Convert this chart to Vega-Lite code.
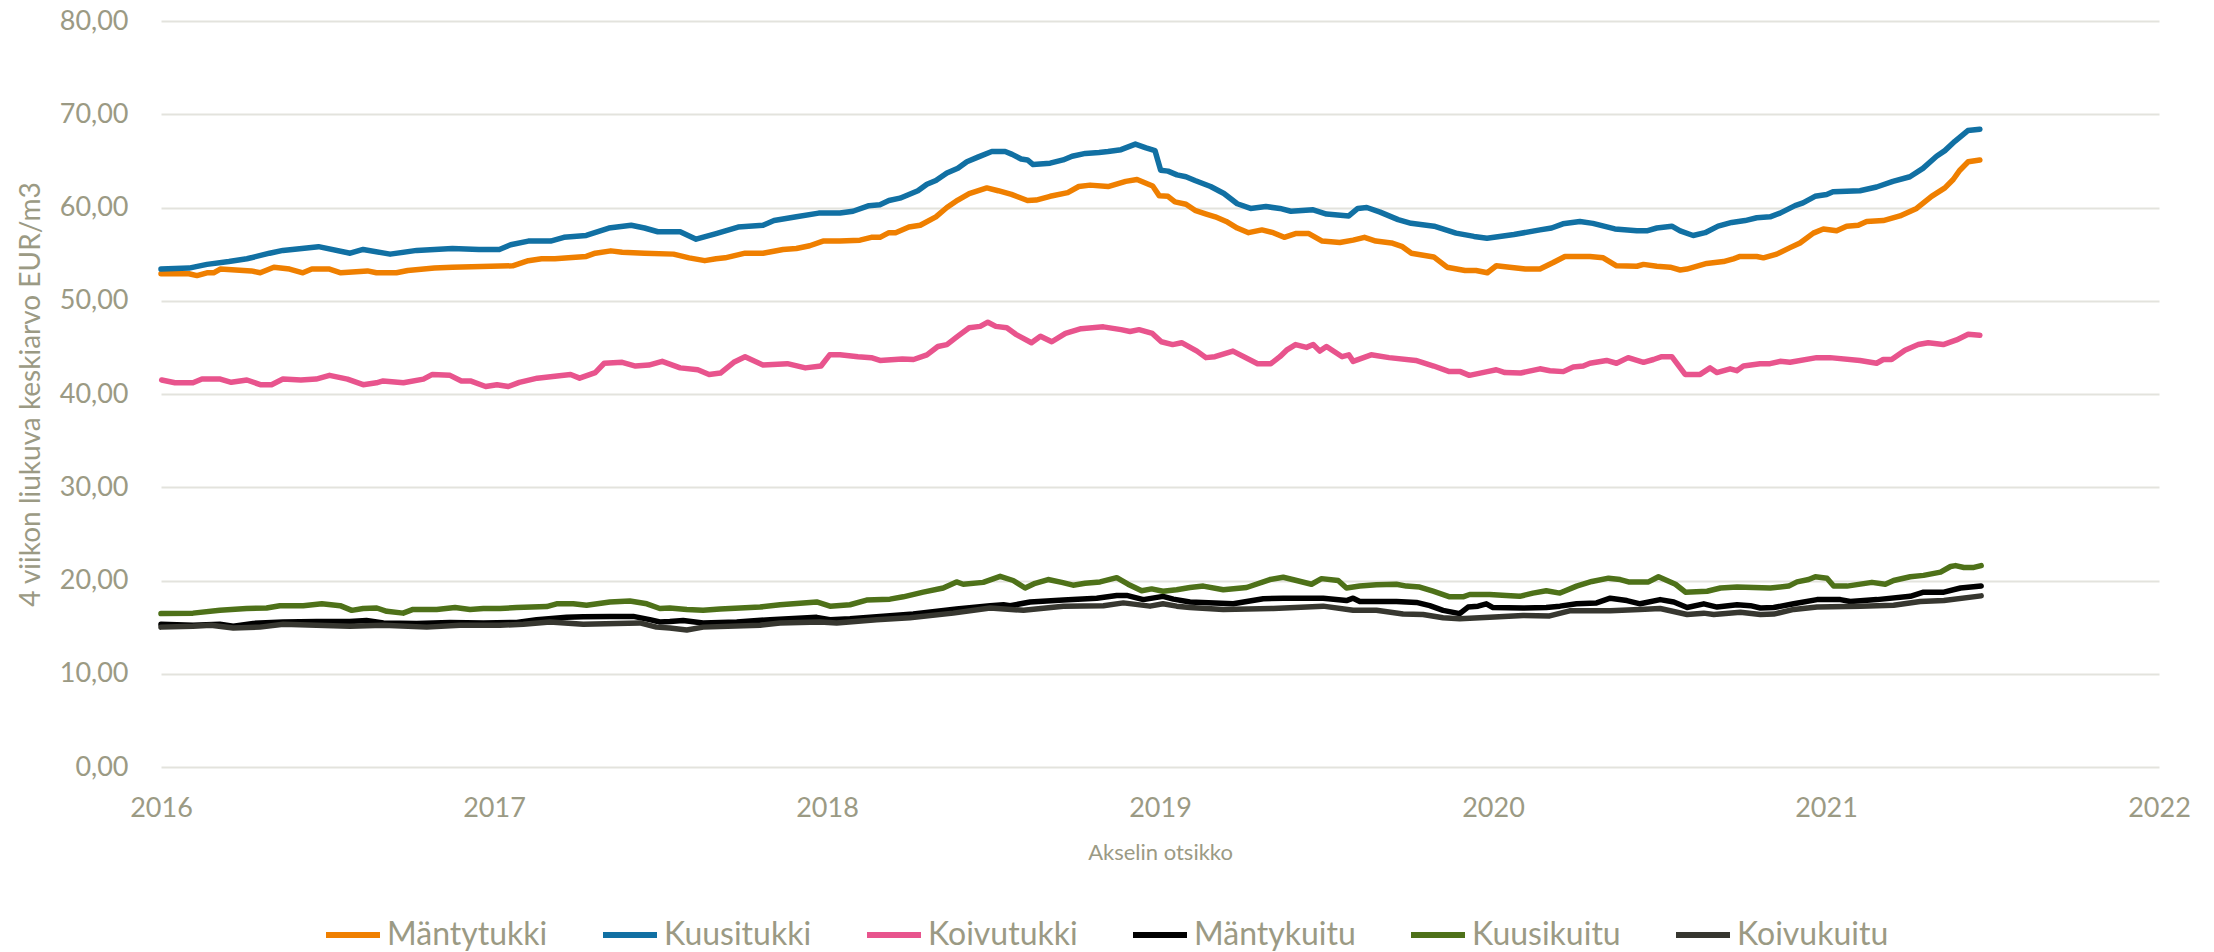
{
"$schema": "https://vega.github.io/schema/vega-lite/v6.json",
"width": 1998, "height": 746,
"autosize": "none",
"padding": {"left": 161, "top": 21, "right": 55, "bottom": 185},
"background": "white",
"config": {
 "locale": {"number": {"decimal": ",", "thousands": "\u00a0", "grouping": [3], "currency": ["", "\u00a0€"]}},
 "view": {"stroke": null},
 "font": "Lato"
},
"data": {"values": [
{"t":2016.000,"s":"Mäntytukki","v":52.9},{"t":2016.084,"s":"Mäntytukki","v":52.9},{"t":2016.108,"s":"Mäntytukki","v":52.7},{"t":2016.138,"s":"Mäntytukki","v":53.0},{"t":2016.158,"s":"Mäntytukki","v":53.0},{"t":2016.178,"s":"Mäntytukki","v":53.4},{"t":2016.271,"s":"Mäntytukki","v":53.2},{"t":2016.298,"s":"Mäntytukki","v":53.0},{"t":2016.339,"s":"Mäntytukki","v":53.6},{"t":2016.386,"s":"Mäntytukki","v":53.4},{"t":2016.426,"s":"Mäntytukki","v":53.0},{"t":2016.453,"s":"Mäntytukki","v":53.4},{"t":2016.506,"s":"Mäntytukki","v":53.4},{"t":2016.540,"s":"Mäntytukki","v":53.0},{"t":2016.620,"s":"Mäntytukki","v":53.2},{"t":2016.647,"s":"Mäntytukki","v":53.0},{"t":2016.707,"s":"Mäntytukki","v":53.0},{"t":2016.741,"s":"Mäntytukki","v":53.25},{"t":2016.821,"s":"Mäntytukki","v":53.5},{"t":2016.875,"s":"Mäntytukki","v":53.6},{"t":2017.056,"s":"Mäntytukki","v":53.75},{"t":2017.103,"s":"Mäntytukki","v":54.3},{"t":2017.143,"s":"Mäntytukki","v":54.5},{"t":2017.183,"s":"Mäntytukki","v":54.5},{"t":2017.224,"s":"Mäntytukki","v":54.6},{"t":2017.277,"s":"Mäntytukki","v":54.75},{"t":2017.304,"s":"Mäntytukki","v":55.1},{"t":2017.351,"s":"Mäntytukki","v":55.35},{"t":2017.385,"s":"Mäntytukki","v":55.2},{"t":2017.452,"s":"Mäntytukki","v":55.1},{"t":2017.539,"s":"Mäntytukki","v":55.0},{"t":2017.586,"s":"Mäntytukki","v":54.6},{"t":2017.633,"s":"Mäntytukki","v":54.3},{"t":2017.667,"s":"Mäntytukki","v":54.5},{"t":2017.694,"s":"Mäntytukki","v":54.6},{"t":2017.754,"s":"Mäntytukki","v":55.1},{"t":2017.808,"s":"Mäntytukki","v":55.1},{"t":2017.868,"s":"Mäntytukki","v":55.5},{"t":2017.908,"s":"Mäntytukki","v":55.6},{"t":2017.948,"s":"Mäntytukki","v":55.9},{"t":2017.988,"s":"Mäntytukki","v":56.4},{"t":2018.039,"s":"Mäntytukki","v":56.4},{"t":2018.099,"s":"Mäntytukki","v":56.5},{"t":2018.133,"s":"Mäntytukki","v":56.8},{"t":2018.159,"s":"Mäntytukki","v":56.8},{"t":2018.186,"s":"Mäntytukki","v":57.3},{"t":2018.206,"s":"Mäntytukki","v":57.3},{"t":2018.246,"s":"Mäntytukki","v":57.9},{"t":2018.280,"s":"Mäntytukki","v":58.1},{"t":2018.327,"s":"Mäntytukki","v":59.0},{"t":2018.360,"s":"Mäntytukki","v":60.0},{"t":2018.393,"s":"Mäntytukki","v":60.8},{"t":2018.427,"s":"Mäntytukki","v":61.5},{"t":2018.480,"s":"Mäntytukki","v":62.1},{"t":2018.514,"s":"Mäntytukki","v":61.8},{"t":2018.554,"s":"Mäntytukki","v":61.4},{"t":2018.602,"s":"Mäntytukki","v":60.75},{"t":2018.628,"s":"Mäntytukki","v":60.8},{"t":2018.670,"s":"Mäntytukki","v":61.2},{"t":2018.723,"s":"Mäntytukki","v":61.6},{"t":2018.756,"s":"Mäntytukki","v":62.25},{"t":2018.790,"s":"Mäntytukki","v":62.4},{"t":2018.844,"s":"Mäntytukki","v":62.25},{"t":2018.897,"s":"Mäntytukki","v":62.8},{"t":2018.931,"s":"Mäntytukki","v":63.0},{"t":2018.978,"s":"Mäntytukki","v":62.3},{"t":2018.998,"s":"Mäntytukki","v":61.25},{"t":2019.024,"s":"Mäntytukki","v":61.2},{"t":2019.045,"s":"Mäntytukki","v":60.6},{"t":2019.078,"s":"Mäntytukki","v":60.35},{"t":2019.105,"s":"Mäntytukki","v":59.7},{"t":2019.139,"s":"Mäntytukki","v":59.3},{"t":2019.166,"s":"Mäntytukki","v":59.0},{"t":2019.199,"s":"Mäntytukki","v":58.5},{"t":2019.232,"s":"Mäntytukki","v":57.8},{"t":2019.266,"s":"Mäntytukki","v":57.3},{"t":2019.306,"s":"Mäntytukki","v":57.6},{"t":2019.340,"s":"Mäntytukki","v":57.3},{"t":2019.373,"s":"Mäntytukki","v":56.8},{"t":2019.407,"s":"Mäntytukki","v":57.2},{"t":2019.447,"s":"Mäntytukki","v":57.2},{"t":2019.487,"s":"Mäntytukki","v":56.4},{"t":2019.540,"s":"Mäntytukki","v":56.25},{"t":2019.580,"s":"Mäntytukki","v":56.5},{"t":2019.614,"s":"Mäntytukki","v":56.8},{"t":2019.648,"s":"Mäntytukki","v":56.4},{"t":2019.695,"s":"Mäntytukki","v":56.2},{"t":2019.728,"s":"Mäntytukki","v":55.8},{"t":2019.755,"s":"Mäntytukki","v":55.1},{"t":2019.822,"s":"Mäntytukki","v":54.7},{"t":2019.862,"s":"Mäntytukki","v":53.6},{"t":2019.916,"s":"Mäntytukki","v":53.25},{"t":2019.949,"s":"Mäntytukki","v":53.25},{"t":2019.983,"s":"Mäntytukki","v":53.0},{"t":2020.010,"s":"Mäntytukki","v":53.75},{"t":2020.050,"s":"Mäntytukki","v":53.6},{"t":2020.097,"s":"Mäntytukki","v":53.4},{"t":2020.141,"s":"Mäntytukki","v":53.4},{"t":2020.181,"s":"Mäntytukki","v":54.1},{"t":2020.216,"s":"Mäntytukki","v":54.75},{"t":2020.291,"s":"Mäntytukki","v":54.75},{"t":2020.331,"s":"Mäntytukki","v":54.6},{"t":2020.371,"s":"Mäntytukki","v":53.75},{"t":2020.432,"s":"Mäntytukki","v":53.7},{"t":2020.452,"s":"Mäntytukki","v":53.9},{"t":2020.492,"s":"Mäntytukki","v":53.7},{"t":2020.532,"s":"Mäntytukki","v":53.6},{"t":2020.562,"s":"Mäntytukki","v":53.3},{"t":2020.582,"s":"Mäntytukki","v":53.4},{"t":2020.642,"s":"Mäntytukki","v":54.0},{"t":2020.692,"s":"Mäntytukki","v":54.2},{"t":2020.722,"s":"Mäntytukki","v":54.5},{"t":2020.742,"s":"Mäntytukki","v":54.75},{"t":2020.792,"s":"Mäntytukki","v":54.75},{"t":2020.812,"s":"Mäntytukki","v":54.6},{"t":2020.852,"s":"Mäntytukki","v":55.0},{"t":2020.892,"s":"Mäntytukki","v":55.7},{"t":2020.922,"s":"Mäntytukki","v":56.2},{"t":2020.962,"s":"Mäntytukki","v":57.25},{"t":2020.992,"s":"Mäntytukki","v":57.7},{"t":2021.032,"s":"Mäntytukki","v":57.5},{"t":2021.062,"s":"Mäntytukki","v":58.0},{"t":2021.097,"s":"Mäntytukki","v":58.1},{"t":2021.122,"s":"Mäntytukki","v":58.5},{"t":2021.172,"s":"Mäntytukki","v":58.6},{"t":2021.222,"s":"Mäntytukki","v":59.1},{"t":2021.272,"s":"Mäntytukki","v":59.9},{"t":2021.317,"s":"Mäntytukki","v":61.2},{"t":2021.357,"s":"Mäntytukki","v":62.1},{"t":2021.382,"s":"Mäntytukki","v":63.0},{"t":2021.402,"s":"Mäntytukki","v":64.0},{"t":2021.427,"s":"Mäntytukki","v":64.9},{"t":2021.462,"s":"Mäntytukki","v":65.1},
{"t":2016.000,"s":"Kuusitukki","v":53.4},{"t":2016.084,"s":"Kuusitukki","v":53.5},{"t":2016.138,"s":"Kuusitukki","v":53.9},{"t":2016.204,"s":"Kuusitukki","v":54.2},{"t":2016.258,"s":"Kuusitukki","v":54.5},{"t":2016.326,"s":"Kuusitukki","v":55.1},{"t":2016.366,"s":"Kuusitukki","v":55.4},{"t":2016.473,"s":"Kuusitukki","v":55.8},{"t":2016.568,"s":"Kuusitukki","v":55.1},{"t":2016.607,"s":"Kuusitukki","v":55.5},{"t":2016.688,"s":"Kuusitukki","v":55.0},{"t":2016.768,"s":"Kuusitukki","v":55.4},{"t":2016.875,"s":"Kuusitukki","v":55.6},{"t":2016.955,"s":"Kuusitukki","v":55.5},{"t":2017.016,"s":"Kuusitukki","v":55.5},{"t":2017.050,"s":"Kuusitukki","v":56.0},{"t":2017.103,"s":"Kuusitukki","v":56.4},{"t":2017.170,"s":"Kuusitukki","v":56.4},{"t":2017.210,"s":"Kuusitukki","v":56.8},{"t":2017.277,"s":"Kuusitukki","v":57.0},{"t":2017.345,"s":"Kuusitukki","v":57.8},{"t":2017.412,"s":"Kuusitukki","v":58.1},{"t":2017.452,"s":"Kuusitukki","v":57.8},{"t":2017.492,"s":"Kuusitukki","v":57.4},{"t":2017.559,"s":"Kuusitukki","v":57.4},{"t":2017.607,"s":"Kuusitukki","v":56.6},{"t":2017.667,"s":"Kuusitukki","v":57.2},{"t":2017.733,"s":"Kuusitukki","v":57.9},{"t":2017.808,"s":"Kuusitukki","v":58.1},{"t":2017.841,"s":"Kuusitukki","v":58.6},{"t":2017.908,"s":"Kuusitukki","v":59.0},{"t":2017.975,"s":"Kuusitukki","v":59.4},{"t":2018.039,"s":"Kuusitukki","v":59.4},{"t":2018.078,"s":"Kuusitukki","v":59.6},{"t":2018.126,"s":"Kuusitukki","v":60.2},{"t":2018.159,"s":"Kuusitukki","v":60.3},{"t":2018.186,"s":"Kuusitukki","v":60.75},{"t":2018.219,"s":"Kuusitukki","v":61.0},{"t":2018.273,"s":"Kuusitukki","v":61.8},{"t":2018.300,"s":"Kuusitukki","v":62.5},{"t":2018.327,"s":"Kuusitukki","v":62.9},{"t":2018.360,"s":"Kuusitukki","v":63.7},{"t":2018.393,"s":"Kuusitukki","v":64.2},{"t":2018.420,"s":"Kuusitukki","v":64.9},{"t":2018.453,"s":"Kuusitukki","v":65.4},{"t":2018.495,"s":"Kuusitukki","v":66.0},{"t":2018.535,"s":"Kuusitukki","v":66.0},{"t":2018.556,"s":"Kuusitukki","v":65.7},{"t":2018.583,"s":"Kuusitukki","v":65.2},{"t":2018.602,"s":"Kuusitukki","v":65.1},{"t":2018.619,"s":"Kuusitukki","v":64.6},{"t":2018.670,"s":"Kuusitukki","v":64.75},{"t":2018.709,"s":"Kuusitukki","v":65.1},{"t":2018.736,"s":"Kuusitukki","v":65.5},{"t":2018.776,"s":"Kuusitukki","v":65.8},{"t":2018.817,"s":"Kuusitukki","v":65.9},{"t":2018.844,"s":"Kuusitukki","v":66.0},{"t":2018.883,"s":"Kuusitukki","v":66.2},{"t":2018.926,"s":"Kuusitukki","v":66.8},{"t":2018.958,"s":"Kuusitukki","v":66.4},{"t":2018.985,"s":"Kuusitukki","v":66.1},{"t":2019.002,"s":"Kuusitukki","v":64.0},{"t":2019.024,"s":"Kuusitukki","v":63.9},{"t":2019.051,"s":"Kuusitukki","v":63.5},{"t":2019.078,"s":"Kuusitukki","v":63.3},{"t":2019.105,"s":"Kuusitukki","v":62.9},{"t":2019.152,"s":"Kuusitukki","v":62.25},{"t":2019.192,"s":"Kuusitukki","v":61.5},{"t":2019.232,"s":"Kuusitukki","v":60.4},{"t":2019.272,"s":"Kuusitukki","v":59.9},{"t":2019.318,"s":"Kuusitukki","v":60.1},{"t":2019.360,"s":"Kuusitukki","v":59.9},{"t":2019.393,"s":"Kuusitukki","v":59.6},{"t":2019.460,"s":"Kuusitukki","v":59.75},{"t":2019.500,"s":"Kuusitukki","v":59.3},{"t":2019.567,"s":"Kuusitukki","v":59.1},{"t":2019.594,"s":"Kuusitukki","v":59.9},{"t":2019.621,"s":"Kuusitukki","v":60.0},{"t":2019.661,"s":"Kuusitukki","v":59.5},{"t":2019.715,"s":"Kuusitukki","v":58.7},{"t":2019.754,"s":"Kuusitukki","v":58.3},{"t":2019.823,"s":"Kuusitukki","v":58.0},{"t":2019.889,"s":"Kuusitukki","v":57.25},{"t":2019.943,"s":"Kuusitukki","v":56.9},{"t":2019.982,"s":"Kuusitukki","v":56.7},{"t":2020.063,"s":"Kuusitukki","v":57.1},{"t":2020.141,"s":"Kuusitukki","v":57.6},{"t":2020.176,"s":"Kuusitukki","v":57.8},{"t":2020.210,"s":"Kuusitukki","v":58.25},{"t":2020.261,"s":"Kuusitukki","v":58.5},{"t":2020.300,"s":"Kuusitukki","v":58.3},{"t":2020.366,"s":"Kuusitukki","v":57.7},{"t":2020.432,"s":"Kuusitukki","v":57.5},{"t":2020.462,"s":"Kuusitukki","v":57.5},{"t":2020.492,"s":"Kuusitukki","v":57.8},{"t":2020.537,"s":"Kuusitukki","v":58.0},{"t":2020.562,"s":"Kuusitukki","v":57.5},{"t":2020.601,"s":"Kuusitukki","v":57.0},{"t":2020.637,"s":"Kuusitukki","v":57.3},{"t":2020.676,"s":"Kuusitukki","v":58.0},{"t":2020.717,"s":"Kuusitukki","v":58.4},{"t":2020.757,"s":"Kuusitukki","v":58.6},{"t":2020.792,"s":"Kuusitukki","v":58.9},{"t":2020.832,"s":"Kuusitukki","v":59.0},{"t":2020.862,"s":"Kuusitukki","v":59.4},{"t":2020.907,"s":"Kuusitukki","v":60.2},{"t":2020.931,"s":"Kuusitukki","v":60.5},{"t":2020.967,"s":"Kuusitukki","v":61.2},{"t":2021.002,"s":"Kuusitukki","v":61.4},{"t":2021.021,"s":"Kuusitukki","v":61.7},{"t":2021.102,"s":"Kuusitukki","v":61.8},{"t":2021.152,"s":"Kuusitukki","v":62.2},{"t":2021.201,"s":"Kuusitukki","v":62.8},{"t":2021.252,"s":"Kuusitukki","v":63.3},{"t":2021.291,"s":"Kuusitukki","v":64.2},{"t":2021.332,"s":"Kuusitukki","v":65.5},{"t":2021.357,"s":"Kuusitukki","v":66.1},{"t":2021.387,"s":"Kuusitukki","v":67.1},{"t":2021.426,"s":"Kuusitukki","v":68.25},{"t":2021.462,"s":"Kuusitukki","v":68.4},
{"t":2016.002,"s":"Koivutukki","v":41.5},{"t":2016.042,"s":"Koivutukki","v":41.2},{"t":2016.096,"s":"Koivutukki","v":41.2},{"t":2016.123,"s":"Koivutukki","v":41.6},{"t":2016.178,"s":"Koivutukki","v":41.6},{"t":2016.211,"s":"Koivutukki","v":41.25},{"t":2016.258,"s":"Koivutukki","v":41.5},{"t":2016.298,"s":"Koivutukki","v":41.0},{"t":2016.332,"s":"Koivutukki","v":41.0},{"t":2016.366,"s":"Koivutukki","v":41.6},{"t":2016.420,"s":"Koivutukki","v":41.5},{"t":2016.466,"s":"Koivutukki","v":41.6},{"t":2016.506,"s":"Koivutukki","v":42.0},{"t":2016.560,"s":"Koivutukki","v":41.6},{"t":2016.607,"s":"Koivutukki","v":41.0},{"t":2016.647,"s":"Koivutukki","v":41.2},{"t":2016.667,"s":"Koivutukki","v":41.4},{"t":2016.728,"s":"Koivutukki","v":41.2},{"t":2016.788,"s":"Koivutukki","v":41.6},{"t":2016.815,"s":"Koivutukki","v":42.1},{"t":2016.868,"s":"Koivutukki","v":42.0},{"t":2016.902,"s":"Koivutukki","v":41.4},{"t":2016.929,"s":"Koivutukki","v":41.4},{"t":2016.975,"s":"Koivutukki","v":40.8},{"t":2017.009,"s":"Koivutukki","v":41.0},{"t":2017.043,"s":"Koivutukki","v":40.8},{"t":2017.076,"s":"Koivutukki","v":41.25},{"t":2017.130,"s":"Koivutukki","v":41.7},{"t":2017.183,"s":"Koivutukki","v":41.9},{"t":2017.230,"s":"Koivutukki","v":42.1},{"t":2017.257,"s":"Koivutukki","v":41.7},{"t":2017.304,"s":"Koivutukki","v":42.3},{"t":2017.331,"s":"Koivutukki","v":43.3},{"t":2017.385,"s":"Koivutukki","v":43.4},{"t":2017.425,"s":"Koivutukki","v":43.0},{"t":2017.465,"s":"Koivutukki","v":43.1},{"t":2017.505,"s":"Koivutukki","v":43.5},{"t":2017.559,"s":"Koivutukki","v":42.8},{"t":2017.612,"s":"Koivutukki","v":42.6},{"t":2017.646,"s":"Koivutukki","v":42.1},{"t":2017.680,"s":"Koivutukki","v":42.25},{"t":2017.720,"s":"Koivutukki","v":43.4},{"t":2017.754,"s":"Koivutukki","v":44.0},{"t":2017.808,"s":"Koivutukki","v":43.1},{"t":2017.881,"s":"Koivutukki","v":43.25},{"t":2017.935,"s":"Koivutukki","v":42.8},{"t":2017.982,"s":"Koivutukki","v":43.0},{"t":2018.008,"s":"Koivutukki","v":44.2},{"t":2018.039,"s":"Koivutukki","v":44.2},{"t":2018.093,"s":"Koivutukki","v":44.0},{"t":2018.133,"s":"Koivutukki","v":43.9},{"t":2018.159,"s":"Koivutukki","v":43.6},{"t":2018.226,"s":"Koivutukki","v":43.75},{"t":2018.260,"s":"Koivutukki","v":43.7},{"t":2018.300,"s":"Koivutukki","v":44.2},{"t":2018.333,"s":"Koivutukki","v":45.1},{"t":2018.360,"s":"Koivutukki","v":45.3},{"t":2018.393,"s":"Koivutukki","v":46.2},{"t":2018.427,"s":"Koivutukki","v":47.1},{"t":2018.460,"s":"Koivutukki","v":47.25},{"t":2018.483,"s":"Koivutukki","v":47.7},{"t":2018.507,"s":"Koivutukki","v":47.25},{"t":2018.540,"s":"Koivutukki","v":47.1},{"t":2018.567,"s":"Koivutukki","v":46.4},{"t":2018.614,"s":"Koivutukki","v":45.5},{"t":2018.641,"s":"Koivutukki","v":46.2},{"t":2018.675,"s":"Koivutukki","v":45.6},{"t":2018.716,"s":"Koivutukki","v":46.5},{"t":2018.763,"s":"Koivutukki","v":47.0},{"t":2018.830,"s":"Koivutukki","v":47.2},{"t":2018.883,"s":"Koivutukki","v":46.9},{"t":2018.910,"s":"Koivutukki","v":46.7},{"t":2018.937,"s":"Koivutukki","v":46.9},{"t":2018.977,"s":"Koivutukki","v":46.5},{"t":2019.004,"s":"Koivutukki","v":45.6},{"t":2019.038,"s":"Koivutukki","v":45.3},{"t":2019.065,"s":"Koivutukki","v":45.5},{"t":2019.111,"s":"Koivutukki","v":44.6},{"t":2019.138,"s":"Koivutukki","v":43.9},{"t":2019.165,"s":"Koivutukki","v":44.0},{"t":2019.219,"s":"Koivutukki","v":44.6},{"t":2019.293,"s":"Koivutukki","v":43.25},{"t":2019.333,"s":"Koivutukki","v":43.25},{"t":2019.360,"s":"Koivutukki","v":44.0},{"t":2019.380,"s":"Koivutukki","v":44.7},{"t":2019.407,"s":"Koivutukki","v":45.3},{"t":2019.440,"s":"Koivutukki","v":45.0},{"t":2019.460,"s":"Koivutukki","v":45.3},{"t":2019.480,"s":"Koivutukki","v":44.6},{"t":2019.500,"s":"Koivutukki","v":45.1},{"t":2019.547,"s":"Koivutukki","v":44.0},{"t":2019.567,"s":"Koivutukki","v":44.2},{"t":2019.580,"s":"Koivutukki","v":43.5},{"t":2019.634,"s":"Koivutukki","v":44.2},{"t":2019.688,"s":"Koivutukki","v":43.9},{"t":2019.768,"s":"Koivutukki","v":43.6},{"t":2019.822,"s":"Koivutukki","v":43.0},{"t":2019.869,"s":"Koivutukki","v":42.4},{"t":2019.902,"s":"Koivutukki","v":42.4},{"t":2019.929,"s":"Koivutukki","v":42.0},{"t":2019.983,"s":"Koivutukki","v":42.4},{"t":2020.010,"s":"Koivutukki","v":42.6},{"t":2020.036,"s":"Koivutukki","v":42.3},{"t":2020.083,"s":"Koivutukki","v":42.25},{"t":2020.141,"s":"Koivutukki","v":42.7},{"t":2020.171,"s":"Koivutukki","v":42.5},{"t":2020.211,"s":"Koivutukki","v":42.4},{"t":2020.241,"s":"Koivutukki","v":42.9},{"t":2020.271,"s":"Koivutukki","v":43.0},{"t":2020.291,"s":"Koivutukki","v":43.3},{"t":2020.341,"s":"Koivutukki","v":43.6},{"t":2020.371,"s":"Koivutukki","v":43.3},{"t":2020.406,"s":"Koivutukki","v":43.9},{"t":2020.452,"s":"Koivutukki","v":43.4},{"t":2020.482,"s":"Koivutukki","v":43.7},{"t":2020.507,"s":"Koivutukki","v":44.0},{"t":2020.537,"s":"Koivutukki","v":44.0},{"t":2020.577,"s":"Koivutukki","v":42.1},{"t":2020.622,"s":"Koivutukki","v":42.1},{"t":2020.652,"s":"Koivutukki","v":42.8},{"t":2020.672,"s":"Koivutukki","v":42.3},{"t":2020.712,"s":"Koivutukki","v":42.7},{"t":2020.732,"s":"Koivutukki","v":42.5},{"t":2020.752,"s":"Koivutukki","v":43.0},{"t":2020.802,"s":"Koivutukki","v":43.25},{"t":2020.832,"s":"Koivutukki","v":43.25},{"t":2020.862,"s":"Koivutukki","v":43.5},{"t":2020.892,"s":"Koivutukki","v":43.4},{"t":2020.972,"s":"Koivutukki","v":43.9},{"t":2021.012,"s":"Koivutukki","v":43.9},{"t":2021.102,"s":"Koivutukki","v":43.6},{"t":2021.152,"s":"Koivutukki","v":43.3},{"t":2021.172,"s":"Koivutukki","v":43.7},{"t":2021.197,"s":"Koivutukki","v":43.7},{"t":2021.237,"s":"Koivutukki","v":44.7},{"t":2021.277,"s":"Koivutukki","v":45.3},{"t":2021.307,"s":"Koivutukki","v":45.5},{"t":2021.352,"s":"Koivutukki","v":45.3},{"t":2021.392,"s":"Koivutukki","v":45.8},{"t":2021.427,"s":"Koivutukki","v":46.4},{"t":2021.462,"s":"Koivutukki","v":46.3},
{"t":2016.000,"s":"Mäntykuitu","v":15.3},{"t":2016.096,"s":"Mäntykuitu","v":15.2},{"t":2016.177,"s":"Mäntykuitu","v":15.3},{"t":2016.217,"s":"Mäntykuitu","v":15.1},{"t":2016.277,"s":"Mäntykuitu","v":15.4},{"t":2016.367,"s":"Mäntykuitu","v":15.55},{"t":2016.467,"s":"Mäntykuitu","v":15.6},{"t":2016.567,"s":"Mäntykuitu","v":15.6},{"t":2016.617,"s":"Mäntykuitu","v":15.7},{"t":2016.668,"s":"Mäntykuitu","v":15.45},{"t":2016.768,"s":"Mäntykuitu","v":15.4},{"t":2016.868,"s":"Mäntykuitu","v":15.5},{"t":2016.968,"s":"Mäntykuitu","v":15.45},{"t":2017.068,"s":"Mäntykuitu","v":15.5},{"t":2017.128,"s":"Mäntykuitu","v":15.8},{"t":2017.218,"s":"Mäntykuitu","v":16.05},{"t":2017.268,"s":"Mäntykuitu","v":16.1},{"t":2017.348,"s":"Mäntykuitu","v":16.15},{"t":2017.418,"s":"Mäntykuitu","v":16.15},{"t":2017.468,"s":"Mäntykuitu","v":15.8},{"t":2017.498,"s":"Mäntykuitu","v":15.55},{"t":2017.528,"s":"Mäntykuitu","v":15.6},{"t":2017.568,"s":"Mäntykuitu","v":15.7},{"t":2017.628,"s":"Mäntykuitu","v":15.45},{"t":2017.729,"s":"Mäntykuitu","v":15.55},{"t":2017.829,"s":"Mäntykuitu","v":15.8},{"t":2017.969,"s":"Mäntykuitu","v":16.05},{"t":2018.009,"s":"Mäntykuitu","v":15.8},{"t":2018.069,"s":"Mäntykuitu","v":15.9},{"t":2018.179,"s":"Mäntykuitu","v":16.2},{"t":2018.259,"s":"Mäntykuitu","v":16.4},{"t":2018.389,"s":"Mäntykuitu","v":16.95},{"t":2018.490,"s":"Mäntykuitu","v":17.3},{"t":2018.530,"s":"Mäntykuitu","v":17.4},{"t":2018.550,"s":"Mäntykuitu","v":17.3},{"t":2018.610,"s":"Mäntykuitu","v":17.7},{"t":2018.710,"s":"Mäntykuitu","v":17.9},{"t":2018.810,"s":"Mäntykuitu","v":18.1},{"t":2018.870,"s":"Mäntykuitu","v":18.4},{"t":2018.900,"s":"Mäntykuitu","v":18.4},{"t":2018.950,"s":"Mäntykuitu","v":17.95},{"t":2019.009,"s":"Mäntykuitu","v":18.3},{"t":2019.040,"s":"Mäntykuitu","v":18.0},{"t":2019.090,"s":"Mäntykuitu","v":17.7},{"t":2019.220,"s":"Mäntykuitu","v":17.5},{"t":2019.310,"s":"Mäntykuitu","v":18.05},{"t":2019.370,"s":"Mäntykuitu","v":18.1},{"t":2019.490,"s":"Mäntykuitu","v":18.1},{"t":2019.560,"s":"Mäntykuitu","v":17.85},{"t":2019.580,"s":"Mäntykuitu","v":18.1},{"t":2019.600,"s":"Mäntykuitu","v":17.75},{"t":2019.710,"s":"Mäntykuitu","v":17.75},{"t":2019.770,"s":"Mäntykuitu","v":17.65},{"t":2019.810,"s":"Mäntykuitu","v":17.3},{"t":2019.850,"s":"Mäntykuitu","v":16.8},{"t":2019.900,"s":"Mäntykuitu","v":16.45},{"t":2019.925,"s":"Mäntykuitu","v":17.15},{"t":2019.955,"s":"Mäntykuitu","v":17.25},{"t":2019.980,"s":"Mäntykuitu","v":17.5},{"t":2020.000,"s":"Mäntykuitu","v":17.1},{"t":2020.090,"s":"Mäntykuitu","v":17.05},{"t":2020.160,"s":"Mäntykuitu","v":17.1},{"t":2020.201,"s":"Mäntykuitu","v":17.25},{"t":2020.251,"s":"Mäntykuitu","v":17.5},{"t":2020.311,"s":"Mäntykuitu","v":17.6},{"t":2020.352,"s":"Mäntykuitu","v":18.1},{"t":2020.402,"s":"Mäntykuitu","v":17.85},{"t":2020.442,"s":"Mäntykuitu","v":17.5},{"t":2020.502,"s":"Mäntykuitu","v":17.95},{"t":2020.543,"s":"Mäntykuitu","v":17.7},{"t":2020.583,"s":"Mäntykuitu","v":17.1},{"t":2020.633,"s":"Mäntykuitu","v":17.5},{"t":2020.673,"s":"Mäntykuitu","v":17.15},{"t":2020.733,"s":"Mäntykuitu","v":17.4},{"t":2020.773,"s":"Mäntykuitu","v":17.3},{"t":2020.803,"s":"Mäntykuitu","v":17.05},{"t":2020.843,"s":"Mäntykuitu","v":17.1},{"t":2020.903,"s":"Mäntykuitu","v":17.5},{"t":2020.973,"s":"Mäntykuitu","v":17.95},{"t":2021.043,"s":"Mäntykuitu","v":17.95},{"t":2021.073,"s":"Mäntykuitu","v":17.75},{"t":2021.153,"s":"Mäntykuitu","v":17.95},{"t":2021.253,"s":"Mäntykuitu","v":18.3},{"t":2021.293,"s":"Mäntykuitu","v":18.75},{"t":2021.354,"s":"Mäntykuitu","v":18.75},{"t":2021.404,"s":"Mäntykuitu","v":19.2},{"t":2021.466,"s":"Mäntykuitu","v":19.4},
{"t":2016.000,"s":"Kuusikuitu","v":16.45},{"t":2016.096,"s":"Kuusikuitu","v":16.5},{"t":2016.177,"s":"Kuusikuitu","v":16.8},{"t":2016.257,"s":"Kuusikuitu","v":17.0},{"t":2016.317,"s":"Kuusikuitu","v":17.05},{"t":2016.357,"s":"Kuusikuitu","v":17.3},{"t":2016.427,"s":"Kuusikuitu","v":17.3},{"t":2016.483,"s":"Kuusikuitu","v":17.5},{"t":2016.538,"s":"Kuusikuitu","v":17.3},{"t":2016.573,"s":"Kuusikuitu","v":16.8},{"t":2016.607,"s":"Kuusikuitu","v":17.0},{"t":2016.648,"s":"Kuusikuitu","v":17.05},{"t":2016.678,"s":"Kuusikuitu","v":16.7},{"t":2016.727,"s":"Kuusikuitu","v":16.5},{"t":2016.757,"s":"Kuusikuitu","v":16.9},{"t":2016.828,"s":"Kuusikuitu","v":16.9},{"t":2016.883,"s":"Kuusikuitu","v":17.1},{"t":2016.928,"s":"Kuusikuitu","v":16.9},{"t":2016.968,"s":"Kuusikuitu","v":17.0},{"t":2017.018,"s":"Kuusikuitu","v":17.0},{"t":2017.068,"s":"Kuusikuitu","v":17.1},{"t":2017.158,"s":"Kuusikuitu","v":17.2},{"t":2017.188,"s":"Kuusikuitu","v":17.5},{"t":2017.238,"s":"Kuusikuitu","v":17.5},{"t":2017.278,"s":"Kuusikuitu","v":17.35},{"t":2017.348,"s":"Kuusikuitu","v":17.7},{"t":2017.408,"s":"Kuusikuitu","v":17.8},{"t":2017.459,"s":"Kuusikuitu","v":17.5},{"t":2017.498,"s":"Kuusikuitu","v":17.0},{"t":2017.528,"s":"Kuusikuitu","v":17.05},{"t":2017.579,"s":"Kuusikuitu","v":16.9},{"t":2017.628,"s":"Kuusikuitu","v":16.8},{"t":2017.679,"s":"Kuusikuitu","v":16.95},{"t":2017.799,"s":"Kuusikuitu","v":17.15},{"t":2017.859,"s":"Kuusikuitu","v":17.4},{"t":2017.969,"s":"Kuusikuitu","v":17.7},{"t":2018.009,"s":"Kuusikuitu","v":17.25},{"t":2018.069,"s":"Kuusikuitu","v":17.4},{"t":2018.119,"s":"Kuusikuitu","v":17.9},{"t":2018.189,"s":"Kuusikuitu","v":18.0},{"t":2018.229,"s":"Kuusikuitu","v":18.25},{"t":2018.289,"s":"Kuusikuitu","v":18.75},{"t":2018.349,"s":"Kuusikuitu","v":19.2},{"t":2018.389,"s":"Kuusikuitu","v":19.85},{"t":2018.409,"s":"Kuusikuitu","v":19.6},{"t":2018.469,"s":"Kuusikuitu","v":19.8},{"t":2018.520,"s":"Kuusikuitu","v":20.45},{"t":2018.559,"s":"Kuusikuitu","v":20.0},{"t":2018.595,"s":"Kuusikuitu","v":19.2},{"t":2018.625,"s":"Kuusikuitu","v":19.7},{"t":2018.664,"s":"Kuusikuitu","v":20.1},{"t":2018.705,"s":"Kuusikuitu","v":19.8},{"t":2018.739,"s":"Kuusikuitu","v":19.5},{"t":2018.775,"s":"Kuusikuitu","v":19.7},{"t":2018.820,"s":"Kuusikuitu","v":19.85},{"t":2018.870,"s":"Kuusikuitu","v":20.3},{"t":2018.904,"s":"Kuusikuitu","v":19.6},{"t":2018.945,"s":"Kuusikuitu","v":18.9},{"t":2018.975,"s":"Kuusikuitu","v":19.1},{"t":2019.009,"s":"Kuusikuitu","v":18.85},{"t":2019.050,"s":"Kuusikuitu","v":19.0},{"t":2019.090,"s":"Kuusikuitu","v":19.25},{"t":2019.130,"s":"Kuusikuitu","v":19.4},{"t":2019.190,"s":"Kuusikuitu","v":19.0},{"t":2019.260,"s":"Kuusikuitu","v":19.25},{"t":2019.330,"s":"Kuusikuitu","v":20.1},{"t":2019.370,"s":"Kuusikuitu","v":20.35},{"t":2019.410,"s":"Kuusikuitu","v":20.0},{"t":2019.455,"s":"Kuusikuitu","v":19.6},{"t":2019.485,"s":"Kuusikuitu","v":20.2},{"t":2019.535,"s":"Kuusikuitu","v":20.0},{"t":2019.560,"s":"Kuusikuitu","v":19.2},{"t":2019.600,"s":"Kuusikuitu","v":19.4},{"t":2019.650,"s":"Kuusikuitu","v":19.55},{"t":2019.710,"s":"Kuusikuitu","v":19.6},{"t":2019.740,"s":"Kuusikuitu","v":19.4},{"t":2019.780,"s":"Kuusikuitu","v":19.3},{"t":2019.820,"s":"Kuusikuitu","v":18.85},{"t":2019.870,"s":"Kuusikuitu","v":18.25},{"t":2019.910,"s":"Kuusikuitu","v":18.25},{"t":2019.930,"s":"Kuusikuitu","v":18.5},{"t":2019.990,"s":"Kuusikuitu","v":18.5},{"t":2020.040,"s":"Kuusikuitu","v":18.4},{"t":2020.080,"s":"Kuusikuitu","v":18.3},{"t":2020.120,"s":"Kuusikuitu","v":18.65},{"t":2020.160,"s":"Kuusikuitu","v":18.9},{"t":2020.201,"s":"Kuusikuitu","v":18.65},{"t":2020.251,"s":"Kuusikuitu","v":19.4},{"t":2020.297,"s":"Kuusikuitu","v":19.9},{"t":2020.347,"s":"Kuusikuitu","v":20.25},{"t":2020.382,"s":"Kuusikuitu","v":20.1},{"t":2020.407,"s":"Kuusikuitu","v":19.85},{"t":2020.467,"s":"Kuusikuitu","v":19.85},{"t":2020.497,"s":"Kuusikuitu","v":20.4},{"t":2020.548,"s":"Kuusikuitu","v":19.6},{"t":2020.578,"s":"Kuusikuitu","v":18.75},{"t":2020.643,"s":"Kuusikuitu","v":18.85},{"t":2020.683,"s":"Kuusikuitu","v":19.2},{"t":2020.733,"s":"Kuusikuitu","v":19.3},{"t":2020.833,"s":"Kuusikuitu","v":19.2},{"t":2020.888,"s":"Kuusikuitu","v":19.4},{"t":2020.913,"s":"Kuusikuitu","v":19.85},{"t":2020.948,"s":"Kuusikuitu","v":20.1},{"t":2020.968,"s":"Kuusikuitu","v":20.4},{"t":2021.003,"s":"Kuusikuitu","v":20.25},{"t":2021.023,"s":"Kuusikuitu","v":19.4},{"t":2021.063,"s":"Kuusikuitu","v":19.4},{"t":2021.138,"s":"Kuusikuitu","v":19.8},{"t":2021.178,"s":"Kuusikuitu","v":19.6},{"t":2021.203,"s":"Kuusikuitu","v":20.0},{"t":2021.253,"s":"Kuusikuitu","v":20.4},{"t":2021.293,"s":"Kuusikuitu","v":20.55},{"t":2021.344,"s":"Kuusikuitu","v":20.9},{"t":2021.374,"s":"Kuusikuitu","v":21.5},{"t":2021.389,"s":"Kuusikuitu","v":21.6},{"t":2021.414,"s":"Kuusikuitu","v":21.4},{"t":2021.444,"s":"Kuusikuitu","v":21.4},{"t":2021.466,"s":"Kuusikuitu","v":21.6},
{"t":2016.000,"s":"Koivukuitu","v":15.0},{"t":2016.096,"s":"Koivukuitu","v":15.1},{"t":2016.150,"s":"Koivukuitu","v":15.2},{"t":2016.217,"s":"Koivukuitu","v":14.9},{"t":2016.297,"s":"Koivukuitu","v":15.0},{"t":2016.367,"s":"Koivukuitu","v":15.3},{"t":2016.467,"s":"Koivukuitu","v":15.2},{"t":2016.567,"s":"Koivukuitu","v":15.1},{"t":2016.668,"s":"Koivukuitu","v":15.2},{"t":2016.798,"s":"Koivukuitu","v":15.0},{"t":2016.898,"s":"Koivukuitu","v":15.2},{"t":2017.018,"s":"Koivukuitu","v":15.2},{"t":2017.088,"s":"Koivukuitu","v":15.3},{"t":2017.168,"s":"Koivukuitu","v":15.55},{"t":2017.268,"s":"Koivukuitu","v":15.3},{"t":2017.368,"s":"Koivukuitu","v":15.4},{"t":2017.438,"s":"Koivukuitu","v":15.45},{"t":2017.488,"s":"Koivukuitu","v":15.0},{"t":2017.528,"s":"Koivukuitu","v":14.9},{"t":2017.579,"s":"Koivukuitu","v":14.7},{"t":2017.628,"s":"Koivukuitu","v":15.0},{"t":2017.799,"s":"Koivukuitu","v":15.2},{"t":2017.859,"s":"Koivukuitu","v":15.45},{"t":2017.979,"s":"Koivukuitu","v":15.55},{"t":2018.029,"s":"Koivukuitu","v":15.45},{"t":2018.149,"s":"Koivukuitu","v":15.8},{"t":2018.249,"s":"Koivukuitu","v":16.0},{"t":2018.379,"s":"Koivukuitu","v":16.5},{"t":2018.490,"s":"Koivukuitu","v":17.05},{"t":2018.590,"s":"Koivukuitu","v":16.8},{"t":2018.710,"s":"Koivukuitu","v":17.25},{"t":2018.830,"s":"Koivukuitu","v":17.3},{"t":2018.890,"s":"Koivukuitu","v":17.6},{"t":2018.970,"s":"Koivukuitu","v":17.25},{"t":2019.009,"s":"Koivukuitu","v":17.5},{"t":2019.050,"s":"Koivukuitu","v":17.25},{"t":2019.090,"s":"Koivukuitu","v":17.1},{"t":2019.190,"s":"Koivukuitu","v":16.9},{"t":2019.340,"s":"Koivukuitu","v":17.0},{"t":2019.490,"s":"Koivukuitu","v":17.25},{"t":2019.580,"s":"Koivukuitu","v":16.8},{"t":2019.650,"s":"Koivukuitu","v":16.8},{"t":2019.730,"s":"Koivukuitu","v":16.4},{"t":2019.790,"s":"Koivukuitu","v":16.35},{"t":2019.850,"s":"Koivukuitu","v":16.0},{"t":2019.900,"s":"Koivukuitu","v":15.9},{"t":2019.990,"s":"Koivukuitu","v":16.05},{"t":2020.090,"s":"Koivukuitu","v":16.25},{"t":2020.170,"s":"Koivukuitu","v":16.2},{"t":2020.230,"s":"Koivukuitu","v":16.75},{"t":2020.352,"s":"Koivukuitu","v":16.75},{"t":2020.440,"s":"Koivukuitu","v":16.9},{"t":2020.502,"s":"Koivukuitu","v":17.0},{"t":2020.583,"s":"Koivukuitu","v":16.35},{"t":2020.633,"s":"Koivukuitu","v":16.5},{"t":2020.663,"s":"Koivukuitu","v":16.35},{"t":2020.743,"s":"Koivukuitu","v":16.6},{"t":2020.803,"s":"Koivukuitu","v":16.35},{"t":2020.843,"s":"Koivukuitu","v":16.4},{"t":2020.903,"s":"Koivukuitu","v":16.9},{"t":2020.973,"s":"Koivukuitu","v":17.15},{"t":2021.103,"s":"Koivukuitu","v":17.25},{"t":2021.203,"s":"Koivukuitu","v":17.35},{"t":2021.283,"s":"Koivukuitu","v":17.75},{"t":2021.354,"s":"Koivukuitu","v":17.85},{"t":2021.466,"s":"Koivukuitu","v":18.35}
]},
"mark": {"type": "line", "strokeWidth": 5.5, "strokeJoin": "round", "strokeCap": "round"},
"encoding": {
 "x": {"field": "t", "type": "quantitative",
  "scale": {"domain": [2016, 2022], "nice": false, "zero": false},
  "axis": {"values": [2016, 2017, 2018, 2019, 2020, 2021, 2022], "format": "d", "title": "Akselin otsikko",
   "grid": false, "ticks": false, "domain": false, "labelFlush": false,
   "labelFontSize": 27, "labelColor": "#9b9a84", "labelPadding": 28,
   "titleFontSize": 22, "titleColor": "#9b9a84", "titleFontWeight": "normal",
   "titleY": 92, "titleBaseline": "alphabetic"}},
 "y": {"field": "v", "type": "quantitative",
  "scale": {"domain": [0, 80], "nice": false},
  "axis": {"values": [0, 10, 20, 30, 40, 50, 60, 70, 80], "format": ".2f", "title": "4 viikon liukuva keskiarvo EUR/m3",
   "grid": true, "gridColor": "#e3e3dd", "gridWidth": 2, "ticks": false, "domain": false,
   "labelFontSize": 27, "labelColor": "#9b9a84", "labelPadding": 33,
   "titleFontSize": 28, "titleColor": "#9b9a84", "titleFontWeight": "normal",
   "titleX": -130, "titleY": 373, "titleBaseline": "middle", "titleAlign": "center"}},
 "color": {"field": "s", "type": "nominal",
  "scale": {"domain": ["Mäntytukki", "Kuusitukki", "Koivutukki", "Mäntykuitu", "Kuusikuitu", "Koivukuitu"],
   "range": ["#ef7f00", "#1170a3", "#e8548d", "#000000", "#4e7119", "#373730"]},
  "legend": {"orient": "none", "legendX": 162, "legendY": 884, "direction": "horizontal", "title": null,
   "symbolType": "stroke", "symbolSize": 2916, "symbolStrokeWidth": 6, "labelOffset": 4,
   "labelFontSize": 32, "labelColor": "#9b9a84", "labelLimit": 400, "columnPadding": 43, "padding": 0}}
}
}
